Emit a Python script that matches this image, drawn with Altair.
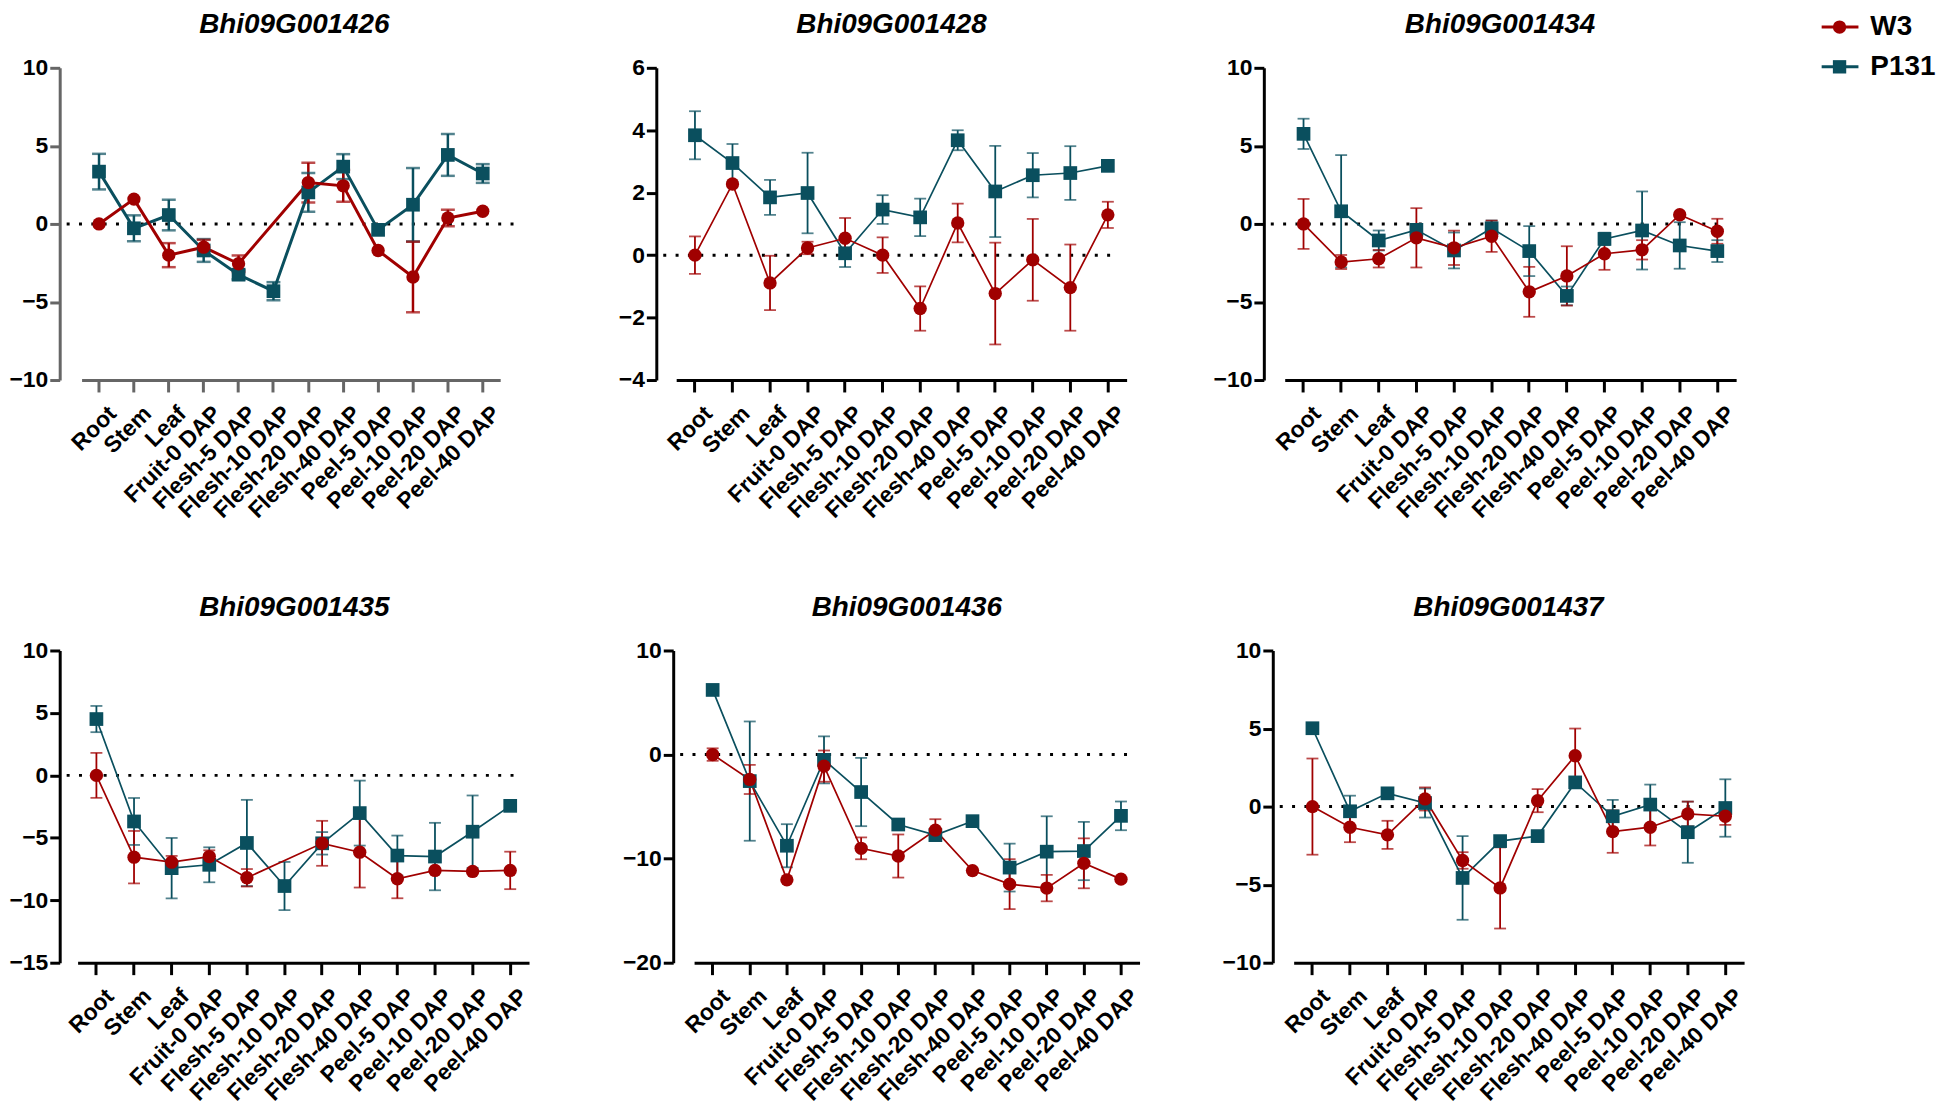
import altair as alt
import pandas as pd

tissues = ["Root", "Stem", "Leaf", "Fruit-0 DAP", "Flesh-5 DAP", "Flesh-10 DAP",
           "Flesh-20 DAP", "Flesh-40 DAP", "Peel-5 DAP", "Peel-10 DAP",
           "Peel-20 DAP", "Peel-40 DAP"]
series_names = ["W3", "P131"]
genes = ["Bhi09G001426", "Bhi09G001428", "Bhi09G001434",
         "Bhi09G001435", "Bhi09G001436", "Bhi09G001437"]

# Bhi09G001426
w3_1426 = [0, 1.59, -2.0, -1.49, -2.55, None, 2.65, 2.44, -1.70, -3.40, 0.38, 0.81]
w3_1426_err = [0, 0, 0.77, 0.47, 0.53, 0, 1.27, 1.02, 0, 2.26, 0.53, 0]
p131_1426 = [3.35, -0.28, 0.57, -1.70, -3.25, -4.31, 2.02, 3.67, -0.38, 1.23, 4.42, 3.23]
p131_1426_err = [1.14, 0.83, 0.98, 0.73, 0.3, 0.58, 1.24, 0.8, 0, 2.35, 1.34, 0.6]

# Bhi09G001428
w3_1428 = [0, 2.28, -0.89, 0.23, 0.54, 0, -1.71, 1.03, -1.23, -0.15, -1.04, 1.29]
w3_1428_err = [0.6, 0, 0.87, 0.2, 0.65, 0.57, 0.71, 0.62, 1.63, 1.31, 1.38, 0.42]
p131_1428 = [3.84, 2.95, 1.85, 1.99, 0.06, 1.46, 1.21, 3.68, 2.04, 2.56, 2.63, 2.86]
p131_1428_err = [0.77, 0.61, 0.56, 1.29, 0.44, 0.46, 0.6, 0.32, 1.46, 0.71, 0.86, 0]

# Bhi09G001434
w3_1434 = [0, -2.44, -2.23, -0.89, -1.53, -0.79, -4.35, -3.33, -1.91, -1.66, 0.59, -0.47]
w3_1434_err = [1.6, 0.45, 0.56, 1.9, 1.1, 1.0, 1.6, 1.9, 1.03, 0.62, 0, 0.8]
p131_1434 = [5.77, 0.81, -1.06, -0.38, -1.70, -0.28, -1.74, -4.61, -0.96, -0.42, -1.38, -1.74]
p131_1434_err = [0.97, 3.6, 0.64, 0.3, 1.15, 0.5, 1.6, 0.6, 0.4, 2.5, 1.49, 0.7]

# Bhi09G001435
w3_1435 = [0, -6.55, -6.95, -6.5, -8.2, None, -5.44, -6.15, -8.28, -7.61, -7.69, -7.61]
w3_1435_err = [1.8, 2.1, 0.5, 0.5, 0.7, 0, 1.8, 2.83, 1.56, 0, 0, 1.5]
p131_1435 = [4.51, -3.69, -7.43, -7.16, -5.41, -8.86, -5.44, -3.02, -6.42, -6.5, -4.51, -2.44]
p131_1435_err = [1.05, 1.88, 2.42, 1.4, 3.45, 1.93, 0.9, 2.6, 1.6, 2.7, 2.9, 0]

# Bhi09G001436
w3_1436 = [0, -2.39, -12.04, -1.11, -9.01, -9.75, -7.26, -11.15, -12.45, -12.83, -10.45, -11.97]
w3_1436_err = [0.6, 1.4, 0, 1.5, 1.05, 2.07, 1.05, 0, 2.4, 1.27, 2.4, 0]
p131_1436 = [6.21, -2.55, -8.76, -0.51, -3.6, -6.72, -7.74, -6.4, -10.86, -9.33, -9.27, -5.89]
p131_1436_err = [0, 5.73, 2.07, 2.26, 3.28, 0, 0, 0, 2.3, 3.4, 2.8, 1.38]

# Bhi09G001437
w3_1437 = [0, -1.32, -1.81, 0.49, -3.45, -5.21, 0.38, 3.26, -1.6, -1.32, -0.47, -0.62]
w3_1437_err = [3.08, 0.96, 0.9, 0.74, 0.53, 2.6, 0.74, 1.74, 1.36, 1.17, 0.79, 0.55]
p131_1437 = [5.02, -0.30, 0.85, 0.23, -4.57, -2.21, -1.89, 1.55, -0.62, 0.13, -1.64, -0.09]
p131_1437_err = [0, 1.0, 0, 0.93, 2.68, 0, 0, 0.3, 1.05, 1.28, 1.96, 1.84]

RED = "#A00000"
TEAL = "#0A4F5E"
FONT = "Liberation Sans"
H = 314


def make_df(w3, w3e, p, pe):
    rows = []
    for name, m, e in (("P131", p, pe), ("W3", w3, w3e)):
        for i, (t, v, s) in enumerate(zip(tissues, m, e)):
            rows.append({
                "tissue": t, "idx": i, "series": name, "mean": v, "err": s,
                "lo": None if v is None else v - s,
                "hi": None if v is None else v + s,
            })
    return pd.DataFrame(rows)


def panel(df, gene, ydom, yticks, W, rng, E, axcol, lw, csize, ssize, ew, capw):
    x = alt.X("tissue:N", sort=tissues, title=None,
              scale=alt.Scale(domain=tissues, range=rng),
              axis=alt.Axis(labelAngle=-45, labelAlign="right", labelBaseline="top",
                            labelOffset=6, labelPadding=10, tickSize=12, tickWidth=3,
                            tickColor=axcol, domainColor=axcol, domainWidth=3,
                            labelFontSize=23, labelFont=FONT, labelFontWeight="bold",
                            labelColor="black", labelOverlap=False, labelLimit=300,
                            minExtent=150, maxExtent=150))
    yscale = alt.Scale(domain=ydom, nice=False, zero=False)
    yaxis = alt.Axis(values=yticks, tickSize=10, tickWidth=3, tickColor=axcol,
                     domainColor=axcol, domainWidth=3, labelFontSize=23,
                     labelFont=FONT, labelFontWeight="bold", labelColor="black",
                     labelPadding=2, minExtent=E, maxExtent=E, grid=False)
    color = alt.Color("series:N", scale=alt.Scale(domain=series_names, range=[RED, TEAL]),
                      legend=None)
    base = alt.Chart(df)
    zero = alt.Chart(pd.DataFrame({"z": [0]})).mark_rule(
        strokeDash=[3, 9.4], strokeWidth=3, color="black").encode(
        y=alt.Y("z:Q", scale=yscale, axis=yaxis, title=None),
        x=alt.value(7), x2=alt.value(W - 10))
    errs = base.transform_filter("isValid(datum.mean) && datum.err > 0")
    err_rule = errs.mark_rule(strokeWidth=ew).encode(
        x=x, y=alt.Y("lo:Q", scale=yscale, axis=yaxis, title=None), y2="hi:Q", color=color)
    cap_lo = errs.mark_tick(size=capw, thickness=ew).encode(
        x=x, y=alt.Y("lo:Q", scale=yscale, axis=yaxis, title=None), color=color)
    cap_hi = errs.mark_tick(size=capw, thickness=ew).encode(
        x=x, y=alt.Y("hi:Q", scale=yscale, axis=yaxis, title=None), color=color)
    valid = base.transform_filter("isValid(datum.mean)")
    line = valid.mark_line(strokeWidth=lw).encode(
        x=x, y=alt.Y("mean:Q", scale=yscale, axis=yaxis, title=None), color=color,
        order=alt.Order("idx:Q"))
    pts = valid.mark_point(filled=True, opacity=1, strokeWidth=0).encode(
        x=x, y=alt.Y("mean:Q", scale=yscale, axis=yaxis, title=None), color=color,
        shape=alt.Shape("series:N", scale=alt.Scale(domain=series_names,
                                                    range=["circle", "square"]), legend=None),
        size=alt.Size("series:N", scale=alt.Scale(domain=series_names,
                                                  range=[csize, ssize]), legend=None))
    return alt.layer(zero, err_rule, cap_lo, cap_hi, line, pts).properties(
        width=W, height=H,
        title=alt.TitleParams(text=gene, fontSize=28, font=FONT, fontWeight="bold",
                              fontStyle="italic", color="black", anchor="middle",
                              offset=18))


d1 = make_df(w3_1426, w3_1426_err, p131_1426, p131_1426_err)
d2 = make_df(w3_1428, w3_1428_err, p131_1428, p131_1428_err)
d3 = make_df(w3_1434, w3_1434_err, p131_1434, p131_1434_err)
d4 = make_df(w3_1435, w3_1435_err, p131_1435, p131_1435_err)
d5 = make_df(w3_1436, w3_1436_err, p131_1436, p131_1436_err)
d6 = make_df(w3_1437, w3_1437_err, p131_1437, p131_1437_err)

p1 = panel(d1, genes[0], [-10, 10], [-10, -5, 0, 5, 10], 472, [22, 443], 46,
           "#666666", 3, 180, 190, 2.5, 14)
p2 = panel(d2, genes[1], [-4, 6], [-4, -2, 0, 2, 4, 6], 473, [20, 473], 68,
           "black", 1.7, 150, 165, 1.8, 12)
p3 = panel(d3, genes[2], [-10, 10], [-10, -5, 0, 5, 10], 475, [21, 475], 75,
           "black", 1.7, 150, 165, 1.8, 12)
p4 = panel(d4, genes[3], [-15, 10], [-15, -10, -5, 0, 5, 10], 472, [18, 472], 46,
           "black", 1.7, 150, 165, 1.8, 12)
p5 = panel(d5, genes[4], [-20, 10], [-20, -10, 0, 10], 470, [21, 469], 82,
           "black", 1.7, 150, 165, 1.8, 12)
p6 = panel(d6, genes[5], [-10, 10], [-10, -5, 0, 5, 10], 474, [21, 474], 70,
           "black", 1.7, 150, 165, 1.8, 12)

# legend (drawn by hand: line + marker + label for each series)
leg_layers = []
leg_rows = {"W3": -41, "P131": -1}
leg_shape = {"W3": "circle", "P131": "square"}
leg_col = {"W3": RED, "P131": TEAL}
for s in series_names:
    one = alt.Chart(pd.DataFrame({"series": [s]}))
    yv = alt.value(leg_rows[s])
    leg_layers.append(one.mark_rule(strokeWidth=3, color=leg_col[s]).encode(
        y=yv, x=alt.value(23), x2=alt.value(60)))
    leg_layers.append(one.mark_point(filled=True, opacity=1, strokeWidth=0, size=180,
                                     shape=leg_shape[s], color=leg_col[s]).encode(
        y=yv, x=alt.value(41)))
    leg_layers.append(one.mark_text(align="left", baseline="middle", fontSize=28, font=FONT,
                                    fontWeight="bold", color="black").encode(
        y=yv, x=alt.value(72), text="series:N"))
legend = alt.layer(*leg_layers).properties(width=60, height=40)

row1 = alt.hconcat(p1, p2, p3, legend, spacing=60)
row2 = alt.hconcat(p4, p5, p6, spacing=60)
chart = alt.vconcat(row1, row2, spacing=65).properties(
    padding=0, background="white"
).configure_view(strokeWidth=0)

chart.save("out.html", embed_options={"renderer": "svg", "actions": False})
